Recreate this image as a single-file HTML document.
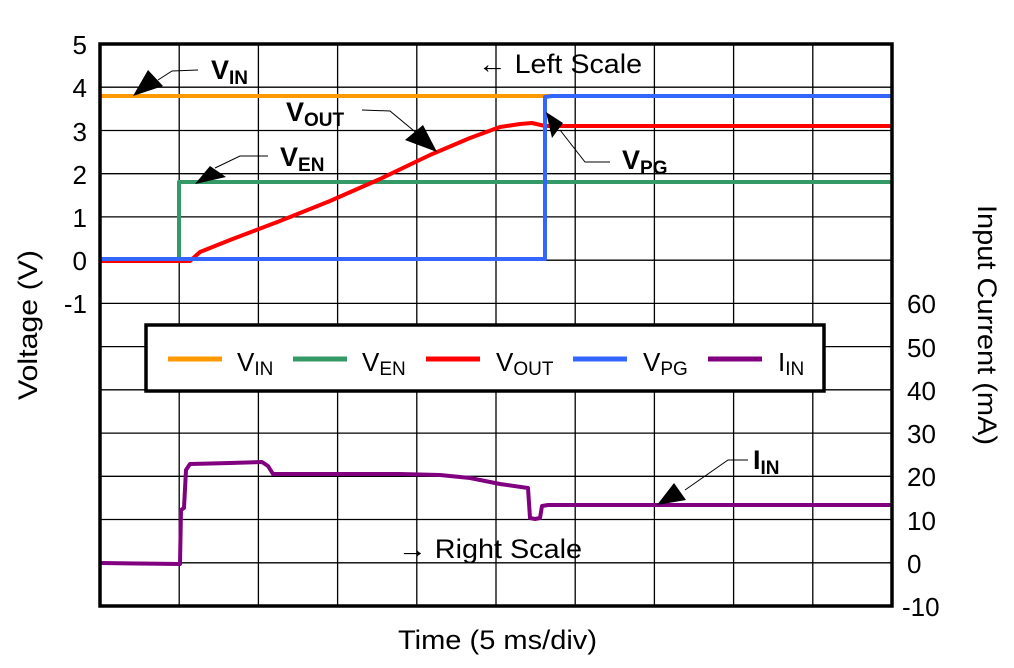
<!DOCTYPE html>
<html><head><meta charset="utf-8"><style>
html,body{margin:0;padding:0;background:#fff;}
svg{display:block;font-family:"Liberation Sans",Arial,sans-serif;}
</style></head><body>
<svg width="1014" height="668" viewBox="0 0 1014 668" xmlns="http://www.w3.org/2000/svg">
<rect width="1014" height="668" fill="#fff"/>
<g stroke="#000" stroke-width="1.3">
<line x1="179.2" y1="44" x2="179.2" y2="606"/><line x1="258.4" y1="44" x2="258.4" y2="606"/>
<line x1="337.6" y1="44" x2="337.6" y2="606"/><line x1="416.8" y1="44" x2="416.8" y2="606"/>
<line x1="496" y1="44" x2="496" y2="606"/><line x1="575.2" y1="44" x2="575.2" y2="606"/>
<line x1="654.4" y1="44" x2="654.4" y2="606"/><line x1="733.6" y1="44" x2="733.6" y2="606"/>
<line x1="812.8" y1="44" x2="812.8" y2="606"/>
<line x1="100" y1="87.2" x2="892" y2="87.2"/><line x1="100" y1="130.5" x2="892" y2="130.5"/>
<line x1="100" y1="173.7" x2="892" y2="173.7"/><line x1="100" y1="216.9" x2="892" y2="216.9"/>
<line x1="100" y1="260.2" x2="892" y2="260.2"/><line x1="100" y1="303.4" x2="892" y2="303.4"/>
<line x1="100" y1="346.6" x2="892" y2="346.6"/><line x1="100" y1="389.8" x2="892" y2="389.8"/>
<line x1="100" y1="433.1" x2="892" y2="433.1"/><line x1="100" y1="476.3" x2="892" y2="476.3"/>
<line x1="100" y1="519.5" x2="892" y2="519.5"/><line x1="100" y1="562.8" x2="892" y2="562.8"/>
</g>
<g fill="none" stroke-width="4" stroke-linejoin="round">
<line x1="101" y1="96" x2="892" y2="96" stroke="#ff9900"/>
<polyline stroke="#339966" points="101,260 179,260 179,182 892,182"/>
<polyline stroke="#ff0000" points="101,261 190,261 200,252 230,240 280,221 330,201 380,179 430,155 470,138 500,127 520,124 532,123 545,126 892,126"/>
<polyline stroke="#3366ff" points="101,259 545,259 545,97 552,96 892,96"/>
<polyline stroke="#800080" points="101,563 180,564 181,510 184,508 186,470 190,464 230,463 262,462 268,466 273,474 330,474 400,474 440,475 470,478 500,484 528,488 530,518 535,519 540,518 542,506 548,505 892,505"/>
</g>
<rect x="100" y="44" width="792" height="562" fill="none" stroke="#000" stroke-width="3.5"/>
<rect x="146" y="325" width="678" height="66" fill="#fff" stroke="#000" stroke-width="3.5"/>
<g stroke-width="5">
<line x1="168" y1="359" x2="222" y2="359" stroke="#ff9900"/>
<line x1="293" y1="359" x2="347" y2="359" stroke="#339966"/>
<line x1="426" y1="359" x2="480" y2="359" stroke="#ff0000"/>
<line x1="573" y1="359" x2="627" y2="359" stroke="#3366ff"/>
<line x1="708" y1="359" x2="762" y2="359" stroke="#800080"/>
</g>
<g font-size="26" fill="#000">
<text x="237" y="371">V<tspan font-size="19" dy="4">IN</tspan></text>
<text x="362" y="371">V<tspan font-size="19" dy="4">EN</tspan></text>
<text x="496" y="371">V<tspan font-size="19" dy="4">OUT</tspan></text>
<text x="643" y="371">V<tspan font-size="19" dy="4">PG</tspan></text>
<text x="778" y="371">I<tspan font-size="19" dy="4">IN</tspan></text>
</g>
<g font-size="26" fill="#000" text-anchor="end">
<text x="87" y="54">5</text><text x="87" y="97">4</text><text x="87" y="141">3</text>
<text x="87" y="184">2</text><text x="87" y="227">1</text><text x="87" y="270">0</text>
<text x="87" y="313">-1</text>
</g>
<g font-size="26" fill="#000" text-anchor="start">
<text x="907" y="313">60</text><text x="907" y="357">50</text><text x="907" y="400">40</text>
<text x="907" y="443">30</text><text x="907" y="486">20</text><text x="907" y="530">10</text>
<text x="907" y="573">0</text><text x="902" y="616">-10</text>
</g>
<text x="398" y="649" font-size="27" textLength="199" lengthAdjust="spacingAndGlyphs">Time (5 ms/div)</text>
<text transform="translate(37,325) rotate(-90)" font-size="27" text-anchor="middle" textLength="150" lengthAdjust="spacingAndGlyphs">Voltage (V)</text>
<text transform="translate(978,325) rotate(90)" font-size="27" text-anchor="middle" textLength="240" lengthAdjust="spacingAndGlyphs">Input Current (mA)</text>
<g font-size="27">
<text x="478" y="73" textLength="164" lengthAdjust="spacingAndGlyphs">← Left Scale</text>
<text x="398" y="558" textLength="184" lengthAdjust="spacingAndGlyphs">→ Right Scale</text>
</g>
<g font-size="27" font-weight="bold">
<text x="211" y="79">V<tspan font-size="19" dy="5">IN</tspan></text>
<text x="286" y="121">V<tspan font-size="19" dy="5">OUT</tspan></text>
<text x="280" y="166">V<tspan font-size="19" dy="5">EN</tspan></text>
<text x="622" y="169">V<tspan font-size="19" dy="5">PG</tspan></text>
<text x="753" y="469">I<tspan font-size="19" dy="5">IN</tspan></text>
</g>
<g stroke="#000" stroke-width="1" fill="none">
<polyline points="198,70 172,71 158,80"/>
<polyline points="362,110 390,111 425,140"/>
<polyline points="268,156 240,156 215,168"/>
<polyline points="610,162 585,162 560,130"/>
<polyline points="748,460 728,460 685,490"/>
</g>
<g fill="#000">
<polygon points="133,96 148,70 163,86"/>
<polygon points="437,152 405,140 423,125"/>
<polygon points="195,184 210,166 226,177"/>
<polygon points="546,112 563,123 552,138"/>
<polygon points="657,505 674,483 686,500"/>
</g>
</svg>
</body></html>
